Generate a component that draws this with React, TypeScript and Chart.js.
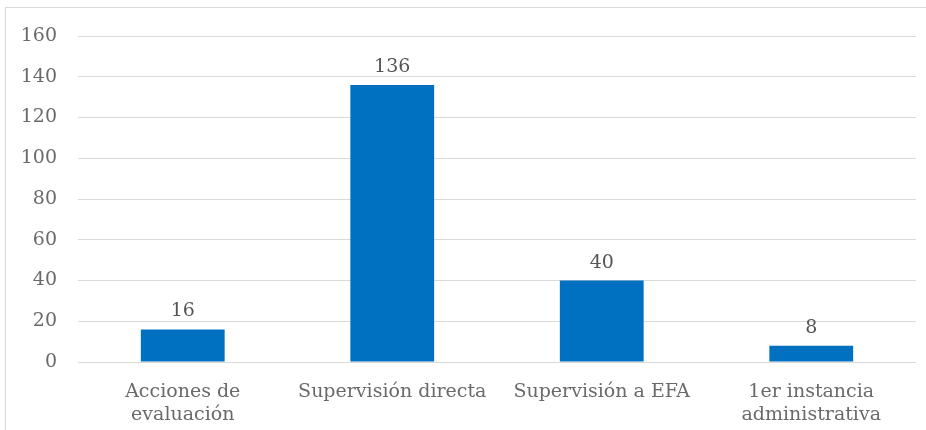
import React, { useEffect, useRef } from "react";
import { Chart, registerables } from "chart.js";

Chart.register(...registerables);

const categories: (string | string[])[] = [
  ["Acciones de", "evaluación"],
  "Supervisión directa",
  "Supervisión a EFA",
  ["1er instancia", "administrativa"],
];
const values: number[] = [16, 136, 40, 8];
const yTicks: number[] = [0, 20, 40, 60, 80, 100, 120, 140, 160];

const FONT = "'DejaVu Serif', serif";
const TEXT = "#6a6a6a";
const SIZE = 19;

const borderPlugin = {
  id: "outerBorder",
  beforeDraw(chart: any) {
    const ctx = chart.ctx;
    ctx.save();
    ctx.fillStyle = "#ffffff";
    ctx.fillRect(0, 0, chart.width, chart.height);
    ctx.strokeStyle = "#d9d9d9";
    ctx.lineWidth = 1;
    ctx.strokeRect(5.5, 7.5, chart.width + 20, chart.height + 20);
    ctx.restore();
  },
};

const labelPlugin = {
  id: "barLabels",
  afterDatasetsDraw(chart: any) {
    const ctx = chart.ctx;
    const meta = chart.getDatasetMeta(0);
    ctx.save();
    ctx.font = `${SIZE}px ${FONT}`;
    ctx.fillStyle = "#555555";
    ctx.textAlign = "center";
    ctx.textBaseline = "alphabetic";
    meta.data.forEach((bar: any, i: number) => {
      ctx.fillText(String(values[i]), bar.x, bar.y - 13);
    });
    ctx.restore();
  },
};

export default function App() {
  const ref = useRef<HTMLCanvasElement>(null);
  useEffect(() => {
    const chart = new Chart(ref.current!, {
      type: "bar",
      data: {
        labels: categories,
        datasets: [
          {
            data: values,
            backgroundColor: "#0070C0",
            categoryPercentage: 1,
            barPercentage: 0.4,
          },
        ],
      },
      options: {
        animation: false,
        responsive: false,
        devicePixelRatio: 1,
        layout: { padding: { top: 36, right: 10, left: 0, bottom: 0 } },
        plugins: { legend: { display: false }, tooltip: { enabled: false } },
        scales: {
          x: {
            grid: { display: false },
            border: { display: false },
            ticks: {
              color: TEXT,
              font: { family: FONT, size: SIZE, lineHeight: 1.21 },
              padding: 11,
              maxRotation: 0,
              autoSkip: false,
            },
            afterFit(scale: any) {
              scale.height = 68;
            },
          },
          y: {
            min: 0,
            max: 160,
            afterBuildTicks(scale: any) {
              scale.ticks = yTicks.map((v) => ({ value: v }));
            },
            grid: { color: "#d9d9d9", lineWidth: 1, drawTicks: false },
            border: { display: false },
            ticks: {
              color: TEXT,
              font: { family: FONT, size: SIZE },
              padding: 21,
            },
            afterFit(scale: any) {
              scale.width = 78;
            },
          },
        },
      },
      plugins: [borderPlugin, labelPlugin],
    });
    return () => chart.destroy();
  }, []);
  return (
    <div style={{ position: "fixed", left: 0, top: 0, width: 926, height: 430 }}>
      <canvas ref={ref} width={926} height={430} style={{ display: "block" }} />
    </div>
  );
}
